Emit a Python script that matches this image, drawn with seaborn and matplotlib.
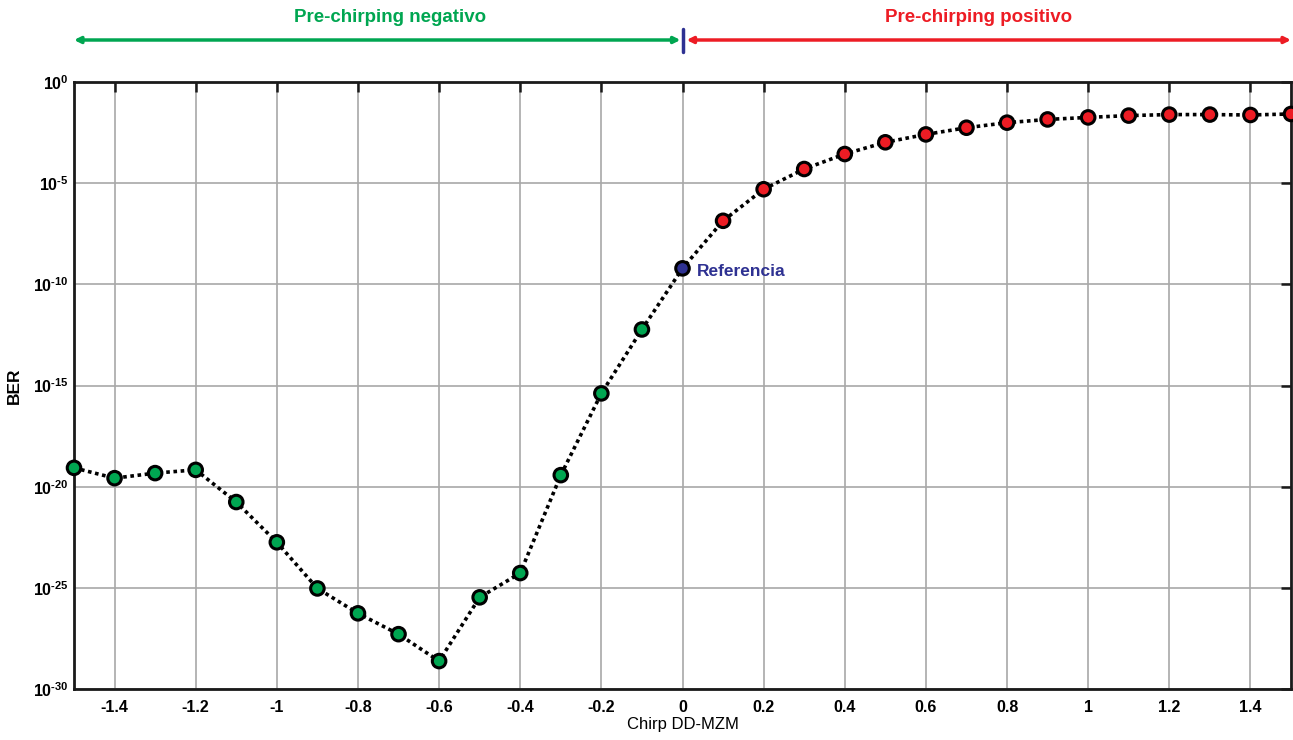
import numpy as np
import pandas as pd
import matplotlib
matplotlib.use("Agg")
import matplotlib.pyplot as plt
import seaborn as sns

# ---- data ----
chirp = [-1.5, -1.4, -1.3, -1.2, -1.1, -1.0, -0.9, -0.8, -0.7, -0.6, -0.5, -0.4, -0.3, -0.2, -0.1,
         0.0, 0.1, 0.2, 0.3, 0.4, 0.5, 0.6, 0.7, 0.8, 0.9, 1.0, 1.1, 1.2, 1.3, 1.4, 1.5]
ber_exp = [-19.07, -19.58, -19.33, -19.17, -20.76, -22.75, -25.03, -26.26, -27.29, -28.62, -25.47,
           -24.27, -19.43, -15.39, -12.23, -9.21, -6.86, -5.30, -4.30, -3.56, -2.98, -2.59, -2.26,
           -2.01, -1.85, -1.75, -1.66, -1.61, -1.61, -1.63, -1.58]
region = ["neg"] * 15 + ["ref"] + ["pos"] * 15
xticks = [-1.4, -1.2, -1.0, -0.8, -0.6, -0.4, -0.2, 0.0, 0.2, 0.4, 0.6, 0.8, 1.0, 1.2, 1.4]
xticklabels = ["-1.4", "-1.2", "-1", "-0.8", "-0.6", "-0.4", "-0.2", "0", "0.2", "0.4", "0.6",
               "0.8", "1", "1.2", "1.4"]
yexp_ticks = [0, -5, -10, -15, -20, -25, -30]
label_neg = "Pre-chirping negativo"
label_pos = "Pre-chirping positivo"
label_ref = "Referencia"

GREEN = "#00A651"
RED = "#ED1C24"
BLUE = "#2E3192"

df = pd.DataFrame({"chirp": chirp, "ber": [10.0 ** e for e in ber_exp], "region": region})

sns.set_theme(style="white")
plt.rcParams["font.family"] = ["Liberation Sans", "DejaVu Sans"]
plt.rcParams["axes.unicode_minus"] = False
plt.rcParams["text.color"] = "black"
plt.rcParams["axes.labelcolor"] = "black"

fig = plt.figure(figsize=(12.93, 7.40), dpi=100)
ax = fig.add_axes([74 / 1293, 1 - 689 / 740, (1291 - 74) / 1293, (689 - 82) / 740])

sns.lineplot(data=df, x="chirp", y="ber", ax=ax, color="black", linestyle=(0, (1, 1)),
             linewidth=2.6, zorder=3)
sns.scatterplot(data=df, x="chirp", y="ber", hue="region", ax=ax,
                palette={"neg": GREEN, "ref": BLUE, "pos": RED},
                s=95, edgecolor="black", linewidth=2.2, zorder=4, legend=False, clip_on=False)


def ylab(e):
    s = str(e).replace("-", "\u2010")
    return r"$\mathregular{10^{%s}}$" % s


ax.set_yscale("log")
ax.set_xlim(-1.5, 1.5)
ax.set_ylim(1e-30, 1e0)
ax.set_xticks(xticks)
ax.set_xticklabels(xticklabels)
ax.set_yticks([10.0 ** e for e in yexp_ticks])
ax.set_yticklabels([ylab(e) for e in yexp_ticks])
ax.yaxis.set_minor_locator(matplotlib.ticker.NullLocator())
ax.grid(True, color="#a8a8a8", linewidth=1.2)
ax.set_axisbelow(True)
for s in ax.spines.values():
    s.set_color("#1a1a1a")
    s.set_linewidth(2.0)
ax.tick_params(axis="both", which="major", direction="in", length=7, width=1.8,
               top=True, right=True, colors="#1a1a1a", labelcolor="black")
for lab in ax.get_xticklabels() + ax.get_yticklabels():
    lab.set_fontweight("bold")
    lab.set_fontsize(11.5)
ax.tick_params(axis="x", pad=8)
ax.tick_params(axis="y", pad=4)

ax.set_xlabel("Chirp DD-MZM", fontsize=12, labelpad=1, color="black")
ax.set_ylabel("BER", fontsize=12.5, fontweight="bold", labelpad=8, color="black")

# reference label
ax.annotate(label_ref, xy=(0.0, 10.0 ** ber_exp[15]), xytext=(10, -2), textcoords="offset points",
            color=BLUE, fontsize=12.5, fontweight="bold", va="center", ha="left")

# header arrows
tr = ax.get_xaxis_transform()
y_arrow = (689 - 40) / 607
ax.annotate("", xy=(-1.5, y_arrow), xytext=(-0.005, y_arrow), xycoords=tr, textcoords=tr,
            arrowprops=dict(arrowstyle="<|-|>", color=GREEN, lw=2.5, mutation_scale=9,
                            shrinkA=0, shrinkB=0), annotation_clip=False)
ax.annotate("", xy=(0.01, y_arrow), xytext=(1.5, y_arrow), xycoords=tr, textcoords=tr,
            arrowprops=dict(arrowstyle="<|-|>", color=RED, lw=2.5, mutation_scale=9,
                            shrinkA=0, shrinkB=0), annotation_clip=False)
ax.plot([0.0, 0.0], [(689 - 52) / 607, (689 - 29) / 607], transform=tr, color=BLUE, lw=2.5,
        clip_on=False)
y_title = (689 - 17) / 607
ax.text(-0.72, y_title, label_neg, transform=tr, color=GREEN, fontsize=13.5, fontweight="bold",
        ha="center", va="center")
ax.text(0.73, y_title, label_pos, transform=tr, color=RED, fontsize=13.5, fontweight="bold",
        ha="center", va="center")

fig.savefig("out.png", dpi=100)
